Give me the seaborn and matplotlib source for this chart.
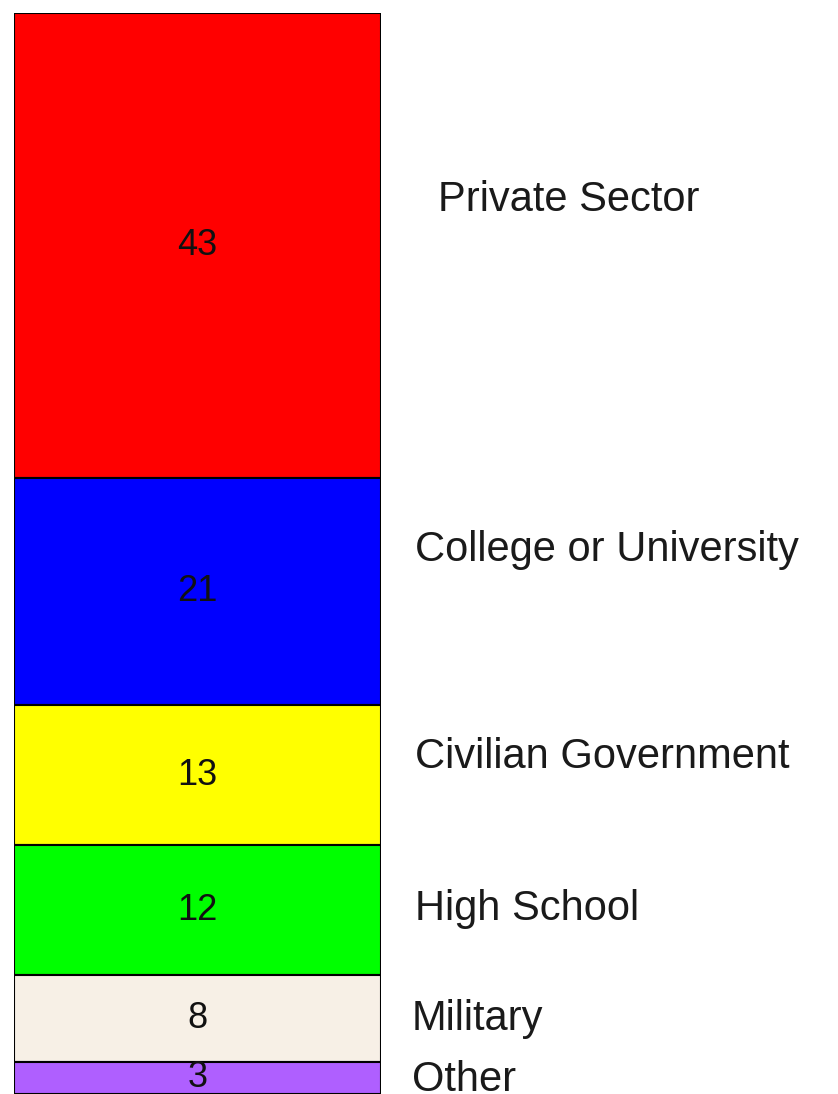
import matplotlib
matplotlib.use("Agg")
import matplotlib.pyplot as plt
import matplotlib.transforms as mtransforms
import seaborn as sns

# 数据（从上到下）
categories = ["Private Sector", "College or University", "Civilian Government",
              "High School", "Military", "Other"]
values = [43, 21, 13, 12, 8, 3]
colors = ["#FF0000", "#0000FF", "#FFFF00", "#00FF00", "#F7F0E6", "#AF5FFF"]

# 标签的位置微调（数据单位 / 图像像素）
label_dy = [4.2, 3.8, 1.7, 0.1, -0.1, -0.2]
label_x = [438, 415, 415, 415, 412, 412]

sns.set_style("white")
plt.rcParams['font.family'] = ['Liberation Sans', 'DejaVu Sans']

W, H = 838, 1094
fig = plt.figure(figsize=(W / 100, H / 100), dpi=100)
ax = fig.add_axes([14 / W, 0, 367 / W, 1081 / H])
trans = mtransforms.blended_transform_factory(fig.transFigure, ax.transData)

# 堆叠柱状图，第一类在最上面
total = sum(values)
top = total
for i, (name, v, c) in enumerate(zip(categories, values, colors)):
    bottom = top - v
    sns.barplot(x=["all"], y=[v], bottom=bottom, color=c, edgecolor="black",
                linewidth=1.5, width=1.0, saturation=1, ax=ax)
    ax.text(0, bottom + v / 2, str(v), ha="center", va="center", fontsize=26, color="#111111")
    # 右侧类别文字
    ax.text(label_x[i] / W, bottom + v / 2 + label_dy[i], name, transform=trans,
            ha="left", va="center", fontsize=30, color="#1a1a1a", clip_on=False)
    top = bottom

ax.set_xlim(-0.5, 0.5)
ax.set_ylim(0, total)
ax.axis("off")

fig.savefig("out.png", dpi=100)
